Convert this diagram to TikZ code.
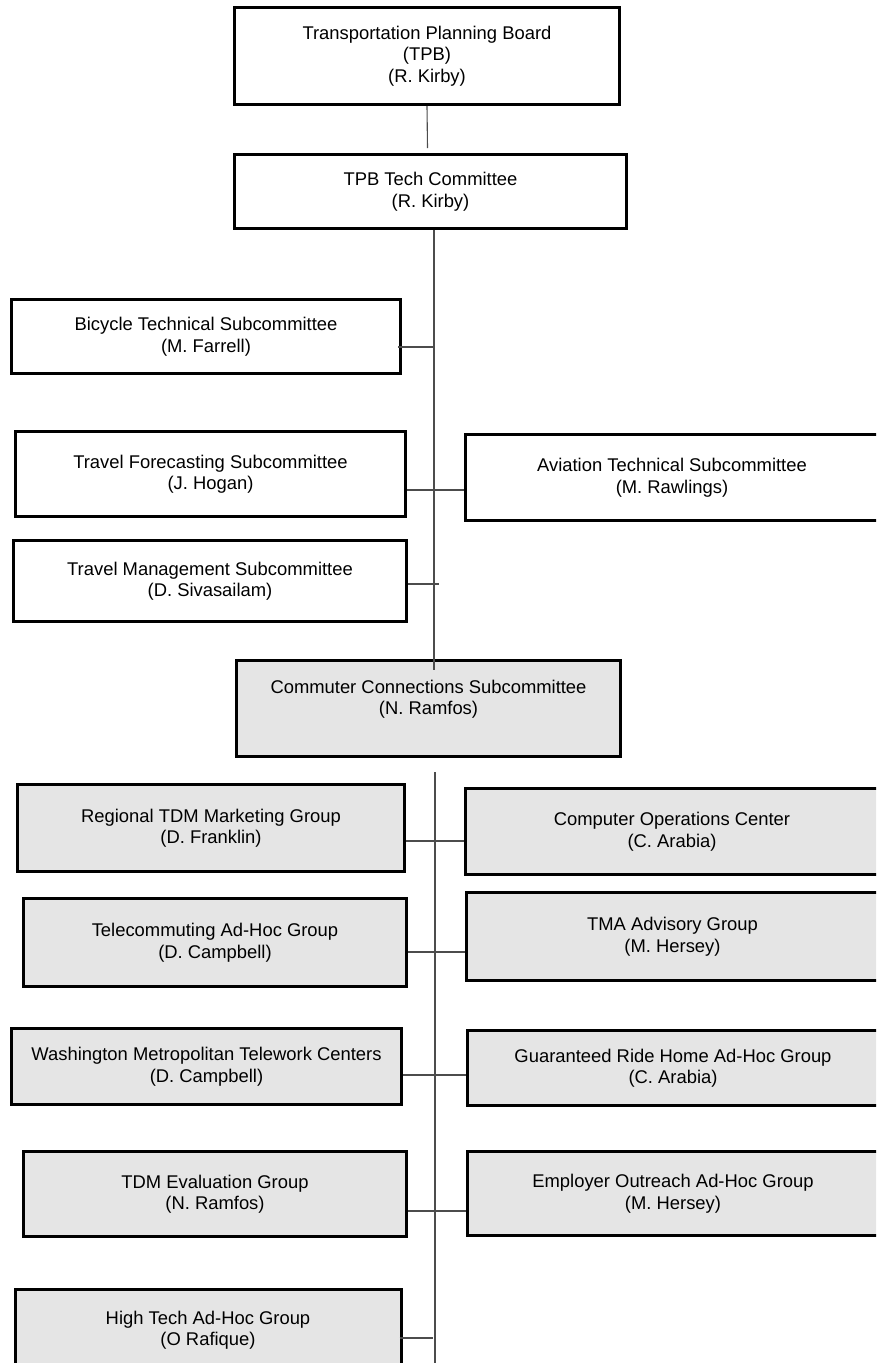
\documentclass[tikz,border=0pt]{standalone}
\usepackage{fontspec}
\setmainfont{Liberation Sans}
\usepackage{tikz}
\usetikzlibrary{calc}

\begin{document}
\begin{tikzpicture}[x=1pt,y=-1pt]
  \tikzstyle{board}=[draw,line width=3pt,fill=white,align=center,inner sep=0pt,
    font=\fontsize{18.4}{21.5}\selectfont]
  \tikzstyle{group}=[board,fill={rgb:black,1;white,9}]
  \tikzstyle{link}=[draw,line width=1.1pt,black!70]

  \clip (0,0) rectangle (876,1363);

  % top of the chart
  \node[board,minimum width=385,minimum height=97]  (tpb)   at (427,56)      {Transportation Planning Board\\(TPB)\\(R. Kirby)};
  \node[board,minimum width=392,minimum height=74]  (tech)  at (430.5,191.5) {TPB Tech Committee\\(R. Kirby)};

  % subcommittees
  \node[board,minimum width=389,minimum height=74]  (bike)  at (206,336.5)   {Bicycle Technical Subcommittee\\(M. Farrell)};
  \node[board,minimum width=390,minimum height=85]  (fore)  at (210.5,474)   {Travel Forecasting Subcommittee\\(J. Hogan)};
  \node[board,minimum width=413,minimum height=86]  (avia)  at (672,477.5)   {Aviation Technical Subcommittee\\(M. Rawlings)};
  \node[board,minimum width=393,minimum height=81]  (tmgmt) at (210,581)     {Travel Management Subcommittee\\(D. Sivasailam)};
  \node[group,minimum width=384,minimum height=96,text depth=22pt] (cc) at (428.5,708.5) {Commuter Connections Subcommittee\\(N. Ramfos)};

  % groups under commuter connections
  \node[group,minimum width=387,minimum height=87]  (rtdm)  at (211,828)     {Regional TDM Marketing Group\\(D. Franklin)};
  \node[group,minimum width=413,minimum height=86]  (coc)   at (672,831.5)   {Computer Operations Center\\(C. Arabia)};
  \node[group,minimum width=383,minimum height=88]  (tele)  at (215,942.5)   {Telecommuting Ad-Hoc Group\\(D. Campbell)};
  \node[group,minimum width=412,minimum height=88]  (tma)   at (672.5,936.5) {TMA Advisory Group\\(M. Hersey)};
  \node[group,minimum width=390,minimum height=76]  (wmtc)  at (206.5,1066.5){Washington Metropolitan Telework Centers\\(D. Campbell)};
  \node[group,minimum width=411,minimum height=75]  (grh)   at (673,1068)    {Guaranteed Ride Home Ad-Hoc Group\\(C. Arabia)};
  \node[group,minimum width=383,minimum height=85]  (eval)  at (215,1194)    {TDM Evaluation Group\\(N. Ramfos)};
  \node[group,minimum width=411,minimum height=84]  (emp)   at (673,1193.5)  {Employer Outreach Ad-Hoc Group\\(M. Hersey)};
  \node[group,minimum width=386,minimum height=81]  (htech) at (208,1330)    {High Tech Ad-Hoc Group\\(O Rafique)};

  \coordinate (spine) at (434,230);
  \coordinate (foot)  at (435,1363);

  \path[link]
  (tpb.south) edge ($(tech.north)+(-3,-5)$)
  ($(tech.south)+(3.5,0)$) edge ($(cc.north)+(5.5,11)$)
  ($(bike.east)+(-4,10.5)$) coordinate (b1) edge (b1 -| spine)
  ($(fore.east)+(0,16)$) coordinate (f1) edge (f1 -| avia.west)
  ($(tmgmt.east)+(0,3)$) coordinate (m1) edge ($(m1 -| spine)+(5,0)$)
  ($(cc.south)+(6.5,14)$) edge (foot)
  ($(rtdm.east)+(0,13)$) coordinate (r1) edge (r1 -| coc.west)
  ($(tele.east)+(0,9.5)$) coordinate (t1) edge (t1 -| tma.west)
  ($(wmtc.east)+(0,8.5)$) coordinate (w1) edge (w1 -| grh.west)
  ($(eval.east)+(0,17)$) coordinate (e1) edge (e1 -| emp.west)
  ($(htech.east)+(-3,8)$) coordinate (h1) edge ($(h1 -| foot)+(-2,0)$);
\end{tikzpicture}
\end{document}
